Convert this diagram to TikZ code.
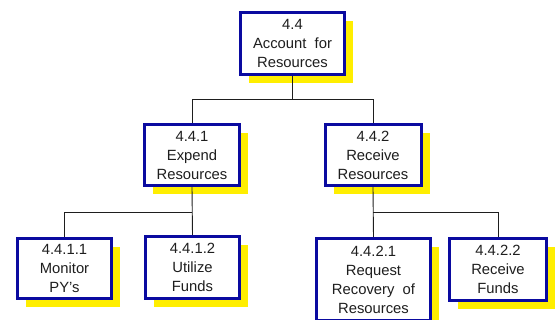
\documentclass[tikz,border=0pt]{standalone}
\usepackage{fontspec}
\setmainfont{Liberation Sans}
\usetikzlibrary{shadows}
\definecolor{boxblue}{RGB}{10,10,160}
\definecolor{shadowyellow}{RGB}{255,238,0}
\definecolor{inkgray}{RGB}{30,30,30}
\begin{document}
\begin{tikzpicture}[x=1pt,y=-1pt,
  wbsbox/.style={draw=boxblue, line width=3pt, fill=white, align=center,
    inner sep=0pt, text=inkgray,
    font=\fontsize{14.8}{19}\selectfont,
    drop shadow={fill=shadowyellow, opacity=1, shadow xshift=8.5pt, shadow yshift=-8.5pt}},
  link/.style={draw=inkgray, line width=0.9pt}]
  \useasboundingbox (0,0) rectangle (558,320);

  % top level
  \node[wbsbox, minimum width=104pt, minimum height=62pt] (A) at (292.5,43.5)
    {4.4\\Account~ for\\Resources};

  % second level
  \node[wbsbox, minimum width=95pt, minimum height=61pt] (B) at (192,155)
    {4.4.1\\Expend\\Resources};
  \node[wbsbox, minimum width=96pt, minimum height=61pt] (C) at (373,155)
    {4.4.2\\Receive\\Resources};

  % third level
  \node[wbsbox, minimum width=94pt, minimum height=60pt] (D) at (64.5,268.5)
    {4.4.1.1\\Monitor\\PY's};
  \node[wbsbox, minimum width=94pt, minimum height=62pt] (E) at (192.5,267.5)
    {4.4.1.2\\Utilize\\Funds};
  \node[wbsbox, minimum width=114pt, minimum height=82pt] (F) at (373.5,279.5)
    {4.4.2.1\\Request\\Recovery~ of\\Resources};
  \node[wbsbox, minimum width=97pt, minimum height=62pt] (G) at (498,269.5)
    {4.4.2.2\\Receive\\Funds};

  % junction points of the tree
  \coordinate (jA) at (292.5,99);
  \coordinate (jB) at (192,212);
  \coordinate (jC) at (373,212);

  \draw[link] (A.south) -- (jA) -| (B.north);
  \draw[link] (jA) -| (C.north);
  \draw[link] (B.south) -- (E.north);
  \draw[link] (jB) -| (D.north);
  \draw[link] (C.south) -- (F.north);
  \draw[link] (jC) -| (G.north);
\end{tikzpicture}
\end{document}
